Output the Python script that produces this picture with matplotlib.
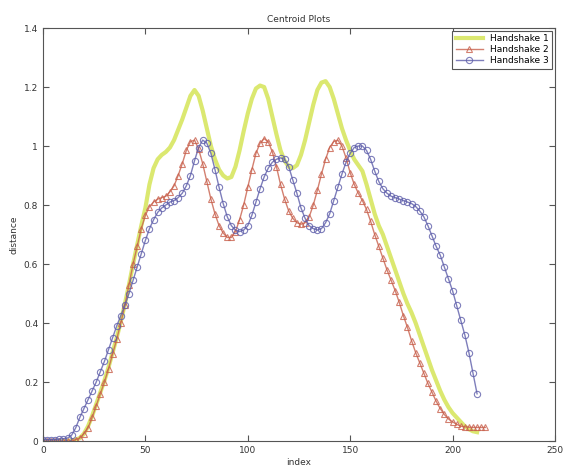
import numpy as np
import matplotlib
matplotlib.use('Agg')
import matplotlib.pyplot as plt


# Handshake 1 (index 0..212 step 2)
hs1 = [0, 0, 0, 0, 0, 0, 0, 0.002, 0.005, 0.01,
       0.025, 0.05, 0.085, 0.125, 0.165, 0.205, 0.25, 0.30, 0.35, 0.405,
       0.465, 0.53, 0.60, 0.665, 0.73, 0.79, 0.87, 0.925, 0.955, 0.97,
       0.98, 0.995, 1.02, 1.055, 1.09, 1.13, 1.17, 1.19, 1.17, 1.12,
       1.06, 1.0, 0.955, 0.92, 0.90, 0.89, 0.895, 0.93, 0.985, 1.05,
       1.11, 1.16, 1.195, 1.205, 1.2, 1.16, 1.1, 1.04, 0.985, 0.95,
       0.93, 0.925, 0.935, 0.97, 1.02, 1.08, 1.14, 1.19, 1.215, 1.22,
       1.2, 1.16, 1.11, 1.06, 1.02, 0.985, 0.955, 0.935, 0.915, 0.87,
       0.82, 0.77, 0.73, 0.70, 0.66, 0.62, 0.58, 0.54, 0.50, 0.465,
       0.435, 0.40, 0.36, 0.32, 0.28, 0.24, 0.205, 0.17, 0.14, 0.115,
       0.095, 0.08, 0.065, 0.05, 0.04, 0.033, 0.03]

# Handshake 2 (index 0..216 step 2)
hs2 = [0, 0, 0, 0, 0, 0, 0, 0, 0.005, 0.01,
       0.025, 0.045, 0.08, 0.12, 0.16, 0.20, 0.245, 0.295, 0.345, 0.40,
       0.46, 0.53, 0.60, 0.66, 0.72, 0.765, 0.795, 0.81, 0.82, 0.825,
       0.83, 0.845, 0.865, 0.90, 0.94, 0.985, 1.015, 1.02, 0.99, 0.94,
       0.88, 0.82, 0.77, 0.73, 0.705, 0.69, 0.69, 0.71, 0.75, 0.80,
       0.86, 0.92, 0.975, 1.01, 1.025, 1.015, 0.98, 0.93, 0.87, 0.82,
       0.78, 0.755, 0.74, 0.735, 0.74, 0.76, 0.80, 0.85, 0.905, 0.955,
       0.995, 1.015, 1.02, 1.0, 0.96, 0.91, 0.87, 0.84, 0.815, 0.785,
       0.745, 0.70, 0.66, 0.62, 0.58, 0.545, 0.51, 0.47, 0.425, 0.385,
       0.34, 0.30, 0.265, 0.23, 0.195, 0.165, 0.135, 0.11, 0.09, 0.075,
       0.065, 0.057, 0.05, 0.048, 0.047, 0.046, 0.046, 0.046, 0.046]

# Handshake 3 (index 0..212 step 2)
hs3 = [0.005, 0.005, 0.005, 0.005, 0.007, 0.008, 0.01, 0.02, 0.045, 0.08,
       0.11, 0.14, 0.17, 0.20, 0.235, 0.27, 0.31, 0.35, 0.39, 0.425,
       0.46, 0.50, 0.545, 0.59, 0.635, 0.68, 0.72, 0.75, 0.775, 0.79,
       0.80, 0.81, 0.815, 0.825, 0.84, 0.865, 0.90, 0.95, 0.995, 1.02,
       1.01, 0.975, 0.92, 0.86, 0.805, 0.76, 0.73, 0.715, 0.71, 0.715,
       0.73, 0.765, 0.81, 0.855, 0.895, 0.925, 0.945, 0.955, 0.96, 0.955,
       0.93, 0.885, 0.84, 0.79, 0.755, 0.73, 0.72, 0.715, 0.72, 0.74,
       0.77, 0.815, 0.86, 0.905, 0.945, 0.975, 0.995, 1.0, 1.0, 0.985,
       0.955, 0.915, 0.88, 0.855, 0.84, 0.83, 0.825, 0.82, 0.815, 0.81,
       0.805, 0.795, 0.78, 0.76, 0.73, 0.695, 0.66, 0.63, 0.59, 0.55,
       0.51, 0.46, 0.41, 0.36, 0.30, 0.23, 0.16]

x1 = np.arange(len(hs1)) * 2
x2 = np.arange(len(hs2)) * 2
x3 = np.arange(len(hs3)) * 2

fig = plt.figure(figsize=(5.65, 4.76), dpi=100)
ax = fig.add_axes([0.0761, 0.0735, 0.906, 0.8676])

ax.plot(x1, hs1, '-', color='#dbe870', lw=3, label='Handshake 1')
ax.plot(x2, hs2, '-^', color='#c8604c', lw=1.0, ms=4.5, mfc='none', mew=0.8,
        alpha=0.8, label='Handshake 2')
ax.plot(x3, hs3, '-o', color='#5e5eaa', lw=1.0, ms=4.5, mfc='none', mew=0.8,
        alpha=0.8, label='Handshake 3')

ax.set_xlim(0, 250)
ax.set_ylim(0, 1.4)
ax.set_xticks([0, 50, 100, 150, 200, 250])
ax.set_yticks([0, 0.2, 0.4, 0.6, 0.8, 1.0, 1.2, 1.4])
ax.set_yticklabels(['0', '0.2', '0.4', '0.6', '0.8', '1', '1.2', '1.4'])
ax.tick_params(direction='in', top=True, right=True, labelsize=6.5,
               length=4, color='#555555', labelcolor='#333333')
for s in ax.spines.values():
    s.set_color('#555555')

ax.set_title('Centroid Plots', fontsize=6.5, color='#333333', pad=4)
ax.set_xlabel('index', fontsize=6.5, color='#333333', labelpad=2)
ax.set_ylabel('distance', fontsize=6.5, color='#333333', labelpad=4)

leg = ax.legend(loc='upper right', fontsize=6.5, fancybox=False,
                borderaxespad=0.3, handlelength=3, labelspacing=0.2,
                framealpha=1)
leg.get_frame().set_edgecolor('#555555')
leg.get_frame().set_linewidth(0.8)

plt.savefig('out.png', dpi=100)
